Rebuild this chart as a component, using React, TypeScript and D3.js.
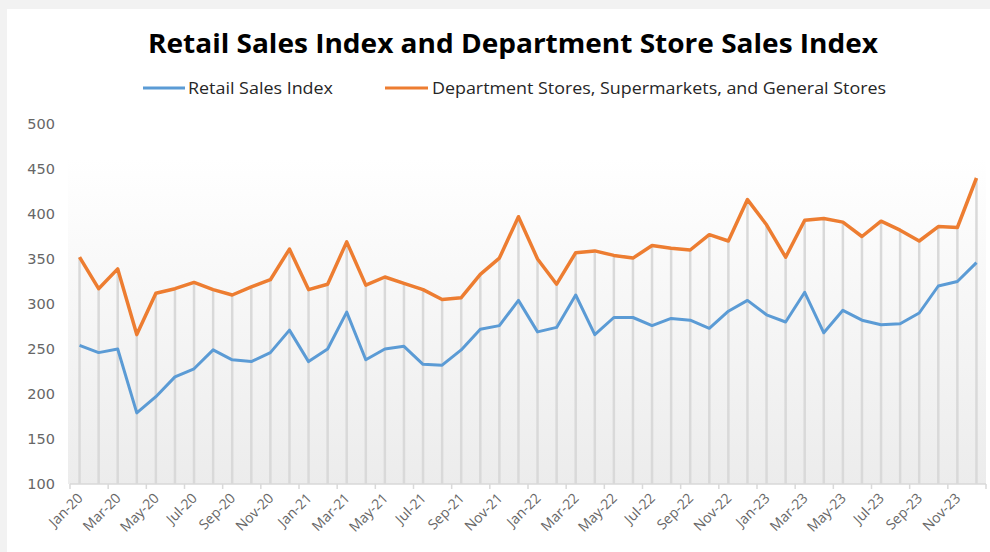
import React from "react";
import * as d3 from "d3";

const months = [
  "Jan-20","Feb-20","Mar-20","Apr-20","May-20","Jun-20","Jul-20","Aug-20","Sep-20","Oct-20","Nov-20","Dec-20",
  "Jan-21","Feb-21","Mar-21","Apr-21","May-21","Jun-21","Jul-21","Aug-21","Sep-21","Oct-21","Nov-21","Dec-21",
  "Jan-22","Feb-22","Mar-22","Apr-22","May-22","Jun-22","Jul-22","Aug-22","Sep-22","Oct-22","Nov-22","Dec-22",
  "Jan-23","Feb-23","Mar-23","Apr-23","May-23","Jun-23","Jul-23","Aug-23","Sep-23","Oct-23","Nov-23","Dec-23",
];

const retailSales = [
  254, 246, 250, 179, 197, 219, 228, 249, 238, 236, 246, 271,
  236, 250, 291, 238, 250, 253, 233, 232, 249, 272, 276, 304,
  269, 274, 310, 266, 285, 285, 276, 284, 282, 273, 292, 304,
  288, 280, 313, 268, 293, 282, 277, 278, 290, 320, 325, 346,
];

const deptStores = [
  352, 317, 339, 266, 312, 317, 324, 316, 310, 319, 327, 361,
  316, 322, 369, 321, 330, 323, 316, 305, 307, 333, 351, 397,
  350, 322, 357, 359, 354, 351, 365, 362, 360, 377, 370, 416,
  388, 352, 393, 395, 391, 375, 392, 382, 370, 386, 385, 440,
];

const yTicks = [100, 150, 200, 250, 300, 350, 400, 450, 500];

const TITLE = "Retail Sales Index and Department Store Sales Index";
const LEGEND_1 = "Retail Sales Index";
const LEGEND_2 = "Department Stores, Supermarkets, and General Stores";

const W = 990;
const H = 552;
const BLUE = "#5b9bd5";
const ORANGE = "#ed7d31";

export default function App() {
  const x = d3.scaleBand<string>().domain(months).range([70, 986]).padding(0);
  const y = d3.scaleLinear().domain([100, 500]).range([484, 124]);
  const cx = (m: string) => (x(m) as number) + x.bandwidth() / 2;

  const line = d3
    .line<number>()
    .x((_, i) => cx(months[i]))
    .y((d) => y(d));

  const tickIdx = d3.range(0, months.length + 1, 2);
  const tickX = (i: number) => (i < months.length ? (x(months[i]) as number) : x.range()[1]);

  return (
    <div style={{ position: "fixed", left: 0, top: 0, width: W, height: H }}>
      <svg width={W} height={H} style={{ display: "block" }}>
        <defs>
          <linearGradient id="plotGrad" x1="0" y1="0" x2="0" y2="1">
            <stop offset="0%" stopColor="#ffffff" />
            <stop offset="100%" stopColor="#ececec" />
          </linearGradient>
        </defs>
        <rect x={0} y={0} width={W} height={H} fill="#f2f2f2" />
        <rect x={7} y={9} width={W - 7} height={H - 9} fill="#ffffff" />
        <rect x={68} y={158} width={986 - 68} height={484 - 158} fill="url(#plotGrad)" />

        <text
          x={513}
          y={53}
          textAnchor="middle"
          fontFamily="'Open Sans', 'Noto Sans', sans-serif"
          fontWeight="bold"
          fontSize={27}
          fill="#000"
          textLength={730}
          lengthAdjust="spacingAndGlyphs"
        >
          {TITLE}
        </text>

        {/* legend */}
        <line x1={143} x2={185} y1={88} y2={88} stroke={BLUE} strokeWidth={3} />
        <text x={188} y={94} fontFamily="'Open Sans', sans-serif" fontSize={16} fill="#262626"
          textLength={145} lengthAdjust="spacingAndGlyphs">
          {LEGEND_1}
        </text>
        <line x1={385} x2={428} y1={88} y2={88} stroke={ORANGE} strokeWidth={3} />
        <text x={432} y={94} fontFamily="'Open Sans', sans-serif" fontSize={16} fill="#262626"
          textLength={454} lengthAdjust="spacingAndGlyphs">
          {LEGEND_2}
        </text>

        {/* y labels */}
        {yTicks.map((t) => (
          <text key={t} x={55} y={y(t) + 5} textAnchor="end" fontFamily="'DejaVu Sans', sans-serif"
            fontSize={14.5} fill="#666666">
            {t}
          </text>
        ))}

        {/* drop lines */}
        {months.map((m, i) => (
          <line key={m} x1={cx(m)} x2={cx(m)} y1={y(deptStores[i])} y2={y(100)} stroke="#d9d9d9" strokeWidth={2.5} />
        ))}

        {/* x axis */}
        <line x1={70} x2={986} y1={484} y2={484} stroke="#d9d9d9" strokeWidth={1.5} />
        {tickIdx.map((i) => (
          <line key={i} x1={tickX(i)} x2={tickX(i)} y1={484} y2={489} stroke="#d9d9d9" strokeWidth={1.5} />
        ))}
        {months.map((m, i) =>
          i % 2 === 0 ? (
            <text key={m} transform={`translate(${cx(m) + 4},${499}) rotate(-45)`} textAnchor="end"
              fontFamily="'Open Sans', sans-serif" fontSize={14} fill="#666666">
              {m}
            </text>
          ) : null
        )}

        <path d={line(retailSales) as string} fill="none" stroke={BLUE} strokeWidth={3} strokeLinejoin="round" />
        <path d={line(deptStores) as string} fill="none" stroke={ORANGE} strokeWidth={3.5} strokeLinejoin="round" />
      </svg>
    </div>
  );
}
